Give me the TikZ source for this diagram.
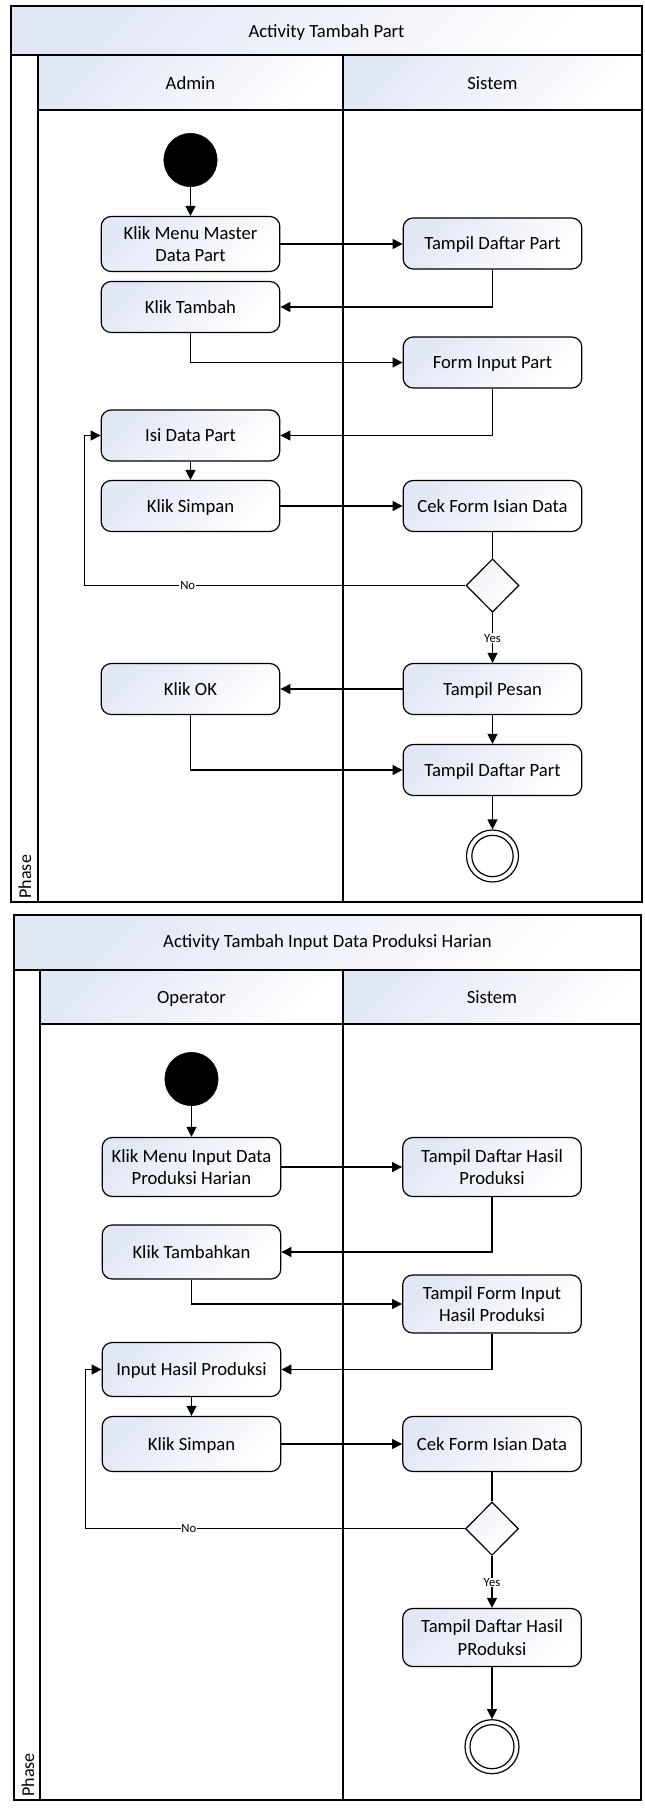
\documentclass[tikz,border=0pt]{standalone}
\usepackage{fontspec}
\setmainfont{Carlito}
\usetikzlibrary{arrows.meta,shapes.geometric}
\definecolor{lightfill}{RGB}{226,231,245}
\begin{document}
\begin{tikzpicture}[x=0.75pt,y=-0.75pt,
  lane/.style={draw=black, line width=1.1pt},
  band/.style={lane, top color=lightfill, bottom color=white, shading angle=45},
  act/.style={draw=black, line width=0.9pt, rounded corners=7.5pt, minimum width=134pt, minimum height=38.25pt, align=center, inner sep=2pt, font=\fontsize{14}{17}\selectfont, top color=lightfill, bottom color=white, shading angle=45},
  one/.style={text height=13pt, text depth=3.4pt},
  startnode/.style={circle, fill=black, draw=black, minimum size=40pt, inner sep=0pt},
  endo/.style={circle, draw=black, line width=0.9pt, fill=white, minimum size=39pt, inner sep=0pt},
  endi/.style={circle, draw=black, line width=0.9pt, minimum size=31pt, inner sep=0pt},
  dec/.style={diamond, draw=black, line width=0.9pt, minimum width=39.75pt, minimum height=40pt, inner sep=0pt, top color=lightfill!50!white, bottom color=white, shading angle=45},
  flow/.style={draw=black, line width=1pt, -{Triangle[length=7.5pt,width=7.5pt]}},
  plain/.style={draw=black, line width=1pt},
  lbl/.style={font=\fontsize{9.5}{11}\selectfont, fill=white, inner sep=0.6pt},
  ttl/.style={font=\fontsize{14}{17}\selectfont, one},
  phase/.style={font=\fontsize{13.5}{16}\selectfont, rotate=90, anchor=west, inner sep=1pt},
]
\useasboundingbox (0,0) rectangle (645,1809);
\fill[white] (0,0) rectangle (645,1809);

% ---------------- Diagram 1 ----------------
\shade[band] (11,6) rectangle (642,55);
\node[ttl] (t1) at (326.5,31) {Activity Tambah Part};
\draw[lane] (11,55) rectangle (38,902);
\shade[band] (38,55) rectangle (343,110);
\shade[band] (343,55) rectangle (642,110);
\node[ttl] (h1a) at (190.5,83) {Admin};
\node[ttl] (h1b) at (492.5,83) {Sistem};
\draw[lane] (38,110) rectangle (343,902);
\draw[lane] (343,110) rectangle (642,902);
\draw[lane] (11,6) rectangle (642,902);
\node[phase] (ph1) at (25,900) {Phase};

\node[startnode] (s1) at (190.5,160) {};
\node[act, minimum height=41.25pt] (a1) at (190.5,244) {Klik Menu Master\\Data Part};
\node[act, one] (b1) at (492.5,243.5) {Tampil Daftar Part};
\node[act, one] (a2) at (190.5,307) {Klik Tambah};
\node[act, one] (b2) at (492.5,362.5) {Form Input Part};
\node[act, one] (a3) at (190.5,435.5) {Isi Data Part};
\node[act, one] (a4) at (190.5,506) {Klik Simpan};
\node[act, one] (b3) at (492.5,506) {Cek Form Isian Data};
\node[dec] (d1) at (492.5,585.5) {};
\node[act, one] (a5) at (190.5,689) {Klik OK};
\node[act, one] (b4) at (492.5,689) {Tampil Pesan};
\node[act, one] (b5) at (492.5,770) {Tampil Daftar Part};
\node[endo] (e1) at (492.5,856) {};
\node[endi] (e1i) at (e1.center) {};
\coordinate (n1) at (84.5,585.5);

\draw[flow] (s1) -- (a1);
\draw[flow] (a1.east) -- (a1.east -| b1.west);
\draw[flow] (b1.south) |- (a2.east);
\draw[flow] (a2.south) |- (b2.west);
\draw[flow] (b2.south) |- (a3.east);
\draw[flow] (a3) -- (a4);
\draw[flow] (a4) -- (b3);
\draw[plain] (b3) -- (d1);
\draw[flow] (d1.west) -- node[lbl, pos=0.729] {No} (n1) |- (a3.west);
\draw[flow] (d1.south) -- node[lbl, pos=0.51] {Yes} (b4.north);
\draw[flow] (b4) -- (a5);
\draw[flow] (b4) -- (b5);
\draw[flow] (a5.south) |- (b5.west);
\draw[flow] (b5) -- (e1);

% ---------------- Diagram 2 ----------------
\shade[band] (14,915) rectangle (641,970);
\node[ttl] (t2) at (327.5,941.5) {Activity Tambah Input Data Produksi Harian};
\draw[lane] (14,970) rectangle (40,1800);
\shade[band] (40,970) rectangle (343,1024);
\shade[band] (343,970) rectangle (641,1024);
\node[ttl] (h2a) at (191.5,997) {Operator};
\node[ttl] (h2b) at (492,997) {Sistem};
\draw[lane] (40,1024) rectangle (343,1800);
\draw[lane] (343,1024) rectangle (641,1800);
\draw[lane] (14,915) rectangle (641,1800);
\node[phase] (ph2) at (28,1798) {Phase};

\node[startnode] (s2) at (191.5,1079) {};
\node[act, minimum height=44.25pt] (p1) at (191.5,1167) {Klik Menu Input Data\\Produksi Harian};
\node[act, minimum height=44.25pt] (q1) at (492,1167) {Tampil Daftar Hasil\\Produksi};
\node[act, one, minimum height=40.5pt] (p2) at (191.5,1252) {Klik Tambahkan};
\node[act, minimum height=43.5pt] (q2) at (492,1304) {Tampil Form Input\\Hasil Produksi};
\node[act, one, minimum height=40.5pt] (p3) at (191.5,1369.5) {Input Hasil Produksi};
\node[act, one, minimum height=41.25pt] (p4) at (191.5,1444) {Klik Simpan};
\node[act, one, minimum height=41.25pt] (q3) at (492,1444) {Cek Form Isian Data};
\node[dec] (d2) at (492,1528.7) {};
\node[act, minimum height=43.5pt] (q4) at (492,1637.5) {Tampil Daftar Hasil\\PRoduksi};
\node[endo, minimum size=40.5pt] (e2) at (492,1746.7) {};
\node[endi, minimum size=33pt] (e2i) at (e2.center) {};
\coordinate (n2) at (85.7,1528.7);

\draw[flow] (s2) -- (p1);
\draw[flow] (p1) -- (q1);
\draw[flow] (q1.south) |- (p2.east);
\draw[flow] (p2.south) |- (q2.west);
\draw[flow] (q2.south) |- (p3.east);
\draw[flow] (p3) -- (p4);
\draw[flow] (p4) -- (q3);
\draw[plain] (q3) -- (d2);
\draw[flow] (d2.west) -- node[lbl, pos=0.728] {No} (n2) |- (p3.west);
\draw[flow] (d2.south) -- node[lbl, pos=0.51] {Yes} (q4.north);
\draw[flow] (q4) -- (e2);
\end{tikzpicture}
\end{document}
